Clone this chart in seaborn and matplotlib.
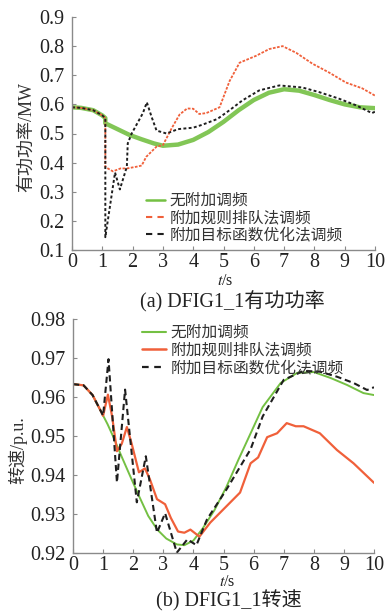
import numpy as np
import pandas as pd
import matplotlib
matplotlib.use("Agg")
import matplotlib.pyplot as plt
from matplotlib.lines import Line2D
import seaborn as sns

# ---------------- data ----------------
labels = ["无附加调频", "附加规则排队法调频", "附加目标函数优化法调频"]

# (a) active power, MW
t_p_green = [0, 0.3, 0.7, 1.0, 1.1, 1.1, 1.5, 1.9, 2.3, 2.7, 3.0, 3.5, 4.0, 4.5, 5.0,
             5.5, 6.0, 6.5, 7.0, 7.5, 8.0, 8.5, 9.0, 9.5, 10.0]
p_green = [0.590, 0.588, 0.580, 0.562, 0.553, 0.535, 0.515, 0.495, 0.480, 0.466, 0.458,
           0.462, 0.478, 0.505, 0.540, 0.580, 0.615, 0.640, 0.652, 0.647, 0.632, 0.615,
           0.600, 0.590, 0.587]

t_p_red = [0, 0.3, 0.7, 1.0, 1.1, 1.1, 1.35, 1.6, 1.81, 2.13, 2.3, 2.45, 2.79, 3.0, 3.3,
           3.55, 3.8, 4.0, 4.2, 4.43, 4.87, 5.2, 5.53, 6.08, 6.51, 6.95, 7.4, 7.93, 8.49,
           9.04, 9.58, 10.0]
p_red = [0.590, 0.588, 0.580, 0.562, 0.553, 0.385, 0.370, 0.380, 0.380, 0.386, 0.390,
         0.420, 0.455, 0.460, 0.520, 0.565, 0.586, 0.585, 0.567, 0.570, 0.590, 0.680,
         0.743, 0.767, 0.790, 0.800, 0.777, 0.740, 0.709, 0.675, 0.655, 0.630]

t_p_black = [0, 0.3, 0.7, 1.0, 1.1, 1.1, 1.42, 1.58, 1.81, 1.84, 1.97, 2.34, 2.47, 2.63,
             2.79, 3.12, 3.5, 4.0, 4.3, 4.8, 5.2, 5.63, 6.18, 6.84, 7.6, 8.16, 8.8, 9.37,
             9.9, 10.0]
p_black = [0.590, 0.588, 0.580, 0.562, 0.553, 0.144, 0.366, 0.308, 0.386, 0.466, 0.500,
           0.570, 0.607, 0.556, 0.510, 0.500, 0.515, 0.520, 0.530, 0.550, 0.580, 0.614,
           0.648, 0.665, 0.658, 0.642, 0.620, 0.597, 0.570, 0.575]

# (b) rotor speed, p.u.
t_w_green = [0, 0.35, 0.65, 0.95, 1.15, 1.35, 1.6, 1.9, 2.2, 2.5, 2.8, 3.1, 3.45, 3.7,
             4.0, 4.3, 4.7, 5.1, 5.5, 5.8, 6.3, 6.9, 7.45, 8.0, 8.55, 9.1, 9.65, 10.0]
w_green = [0.9633, 0.9630, 0.9605, 0.9560, 0.9530, 0.9496, 0.9450, 0.9397, 0.9345,
           0.9295, 0.9260, 0.9237, 0.9222, 0.9220, 0.9232, 0.9262, 0.9310, 0.9370,
           0.9440, 0.9490, 0.9574, 0.9636, 0.9662, 0.9664, 0.9649, 0.9631, 0.9610, 0.9605]

t_w_red = [0, 0.35, 0.65, 0.95, 1.0, 1.16, 1.3, 1.46, 1.62, 1.79, 1.95, 2.19, 2.39, 2.55,
           2.79, 3.06, 3.25, 3.49, 3.7, 3.9, 4.2, 4.56, 5.1, 5.55, 5.9, 6.15, 6.45, 6.78,
           7.1, 7.4, 7.66, 8.2, 8.77, 9.32, 10.0]
w_red = [0.9633, 0.9630, 0.9605, 0.9560, 0.9552, 0.9606, 0.9550, 0.9461, 0.9480, 0.9523,
         0.9480, 0.9407, 0.9417, 0.9390, 0.9338, 0.9325, 0.9290, 0.9255, 0.9252, 0.9260,
         0.9242, 0.9278, 0.9320, 0.9355, 0.9430, 0.9445, 0.9497, 0.9507, 0.9533, 0.9525,
         0.9525, 0.9507, 0.9464, 0.9430, 0.9380]

t_w_black = [0, 0.35, 0.65, 0.95, 1.0, 1.18, 1.46, 1.73, 2.12, 2.42, 2.79, 3.06, 3.45,
             3.8, 4.1, 4.45, 5.1, 5.9, 6.3, 7.0, 7.66, 8.2, 8.77, 9.32, 9.77, 10.0]
w_black = [0.9633, 0.9630, 0.9605, 0.9560, 0.9552, 0.9697, 0.9381, 0.9619, 0.9330,
           0.9448, 0.9252, 0.9302, 0.9201, 0.9235, 0.9220, 0.9286, 0.9363, 0.9466,
           0.9550, 0.9644, 0.9667, 0.9665, 0.9652, 0.9636, 0.9618, 0.9625]

x_ticks = list(range(0, 11))
p_ticks = [0.1, 0.2, 0.3, 0.4, 0.5, 0.6, 0.7, 0.8, 0.9]
w_ticks = [0.92, 0.93, 0.94, 0.95, 0.96, 0.97, 0.98]

# ---------------- style ----------------
sns.set_style("ticks")
SERIF = ["Liberation Serif", "Noto Sans CJK SC", "DejaVu Sans"]
CJK = ["Noto Sans CJK SC", "DejaVu Sans"]
plt.rcParams["font.family"] = SERIF
plt.rcParams["mathtext.fontset"] = "stix"
plt.rcParams["axes.edgecolor"] = "#8a8a8a"
plt.rcParams["axes.linewidth"] = 1.0

GREEN = "#74c043"
RED = "#f0603a"
BLACK = "#1e1e1e"
TXT = "#222222"

W, H = 387, 612
fig = plt.figure(figsize=(W / 100, H / 100), dpi=100)
fig.patch.set_facecolor("white")

def frac_box(l, r, t, b):
    return [l / W, 1 - b / H, (r - l) / W, (b - t) / H]

ax1 = fig.add_axes(frac_box(72, 375, 17, 250))
ax2 = fig.add_axes(frac_box(73, 374, 319, 553))

def style_axis(ax, yticks, ylim, yfmt):
    ax.set_xlim(0, 10)
    ax.set_ylim(*ylim)
    ax.set_xticks(x_ticks)
    ax.set_yticks(yticks)
    ax.set_yticklabels([yfmt.format(v) for v in yticks])
    ax.tick_params(direction="in", length=3, width=0.8, color="#8a8a8a",
                   labelsize=14.5, labelcolor=TXT)
    ax.tick_params(axis="y", pad=5.5)
    ax.tick_params(axis="x", pad=2.5)
    for lab in ax.get_xticklabels() + ax.get_yticklabels():
        lab.set_family(SERIF)
    sns.despine(ax=ax)
    ax.set_xlabel("")
    ax.set_ylabel("")

# ---- (a) active power ----
sns.lineplot(x=t_p_green, y=p_green, ax=ax1, color=GREEN, lw=3.2, sort=False,
             estimator=None, alpha=0.9)
sns.lineplot(x=t_p_red, y=p_red, ax=ax1, color=RED, lw=1.3, sort=False,
             estimator=None, linestyle=(0, (1.5, 0.8)))
sns.lineplot(x=t_p_black, y=p_black, ax=ax1, color=BLACK, lw=1.4, sort=False,
             estimator=None, linestyle=(0, (1.5, 1.2)))
style_axis(ax1, p_ticks, (0.1, 0.9), "{:.1f}")

h1 = [Line2D([], [], color=GREEN, lw=1.8),
      Line2D([], [], color=RED, lw=1.5, linestyle=(0, (3, 2.5))),
      Line2D([], [], color=BLACK, lw=1.5, linestyle=(0, (3, 2.5)))]
leg1 = ax1.legend(h1, labels, loc="upper left", bbox_to_anchor=(146 / W, 1 - 192 / H),
                  bbox_transform=fig.transFigure, frameon=False, handlelength=1.2,
                  handletextpad=0.3, labelspacing=0.0, borderpad=0, borderaxespad=0,
                  prop={"family": CJK, "size": 11.3})
for tx in leg1.get_texts():
    tx.set_color("#333333")

# ---- (b) speed ----
sns.lineplot(x=t_w_green, y=w_green, ax=ax2, color=GREEN, lw=1.4, sort=False,
             estimator=None)
sns.lineplot(x=t_w_red, y=w_red, ax=ax2, color=RED, lw=1.6, sort=False,
             estimator=None)
sns.lineplot(x=t_w_black, y=w_black, ax=ax2, color=BLACK, lw=1.5, sort=False,
             estimator=None, linestyle=(0, (3, 1.8)))
style_axis(ax2, w_ticks, (0.92, 0.98), "{:.2f}")

h2 = [Line2D([], [], color=GREEN, lw=1.5),
      Line2D([], [], color=RED, lw=1.8),
      Line2D([], [], color=BLACK, lw=1.6, linestyle=(0, (3, 2.5)))]
leg2 = ax2.legend(h2, labels, loc="upper left", bbox_to_anchor=(142 / W, 1 - 324 / H),
                  bbox_transform=fig.transFigure, frameon=False, handlelength=1.5,
                  handletextpad=0.3, labelspacing=0.05, borderpad=0, borderaxespad=0,
                  prop={"family": CJK, "size": 11.3})
for tx in leg2.get_texts():
    tx.set_color("#333333")

# ---- labels / captions ----
fig.text(225 / W, 1 - 281 / H, r"$t$/s", ha="center", va="center", fontsize=11.5,
         color=TXT)
fig.text(227 / W, 1 - 582 / H, r"$t$/s", ha="center", va="center", fontsize=11.5,
         color=TXT)
fig.text(232 / W, 1 - 301 / H, "(a) DFIG1_1有功功率", ha="center", va="center",
         fontsize=14.5, color=TXT, family=SERIF)
fig.text(229 / W, 1 - 601 / H, "(b) DFIG1_1转速", ha="center", va="center",
         fontsize=14.5, color=TXT, family=SERIF)
fig.text(27 / W, 1 - 137 / H, "有功功率/MW", rotation=90, ha="center", va="center",
         fontsize=13, color="#333333", family=SERIF)
fig.text(18 / W, 1 - 450 / H, "转速/p.u.", rotation=90, ha="center", va="center",
         fontsize=13, color="#333333", family=SERIF)

fig.savefig("out.png", dpi=100, facecolor="white")
